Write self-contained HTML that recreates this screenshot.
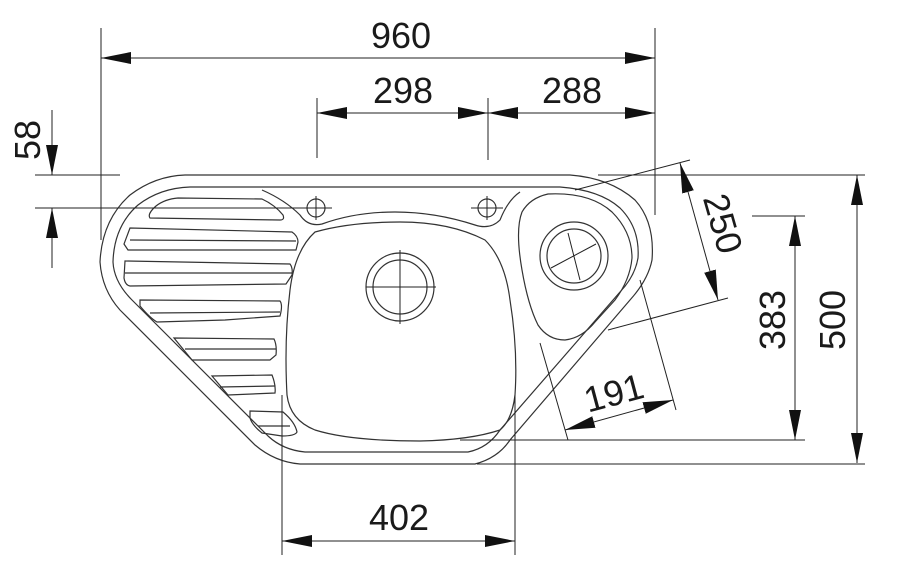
<!DOCTYPE html>
<html><head><meta charset="utf-8"><style>
html,body{margin:0;padding:0;background:#fff;}
svg{display:block;}
text{font-family:"Liberation Sans",sans-serif;font-size:36px;fill:#1a1a1a;}
</style></head><body>
<svg width="900" height="565" viewBox="0 0 900 565" xmlns="http://www.w3.org/2000/svg">
<defs>
<marker id="a" viewBox="0 0 30 12" refX="30" refY="6" markerWidth="30" markerHeight="12" markerUnits="userSpaceOnUse" orient="auto-start-reverse">
<path d="M0,0 L30,6 L0,12 Z" fill="#111"/></marker>
</defs>
<g fill="none" stroke="#333" stroke-width="1.2">
<path d="M185,175 L570,175 Q610,178 635,200 Q655,222 652,260 Q648,280 630,300 L510,440 Q498,458 475,464 L300,464 Q275,462 255,445 L120,310 Q102,290 100,262 Q102,220 130,195 Q155,176 185,175 Z"/>
<path d="M190,187 L560,187 Q600,190 620,208 Q640,228 638,258 Q635,276 620,292 L500,430 Q488,448 468,452 L305,452 Q283,450 268,436 L132,300 Q114,282 113,262 Q114,226 138,205 Q160,188 190,187 Z"/>
<path d="M262,190 Q285,200 300,215 Q308,227 322,224 Q355,212 395,212 Q435,212 475,225 Q490,230 500,220 Q508,200 520,192"/>
<path d="M315,232 Q350,222 400,222 Q450,222 485,240 Q505,260 510,300 Q518,350 515,395 Q512,420 500,430 Q470,440 420,441 Q350,441 315,430 Q290,420 287,395 Q284,340 290,290 Q295,250 315,232 Z"/>
<path d="M548,194 Q590,192 612,212 Q632,232 632,258 Q630,280 615,300 L595,322 Q582,338 565,340 Q548,340 538,325 Q528,305 522,270 Q515,230 522,212 Q530,198 548,194 Z"/>
<circle cx="400" cy="287" r="34"/><circle cx="400" cy="287" r="27"/>
<circle cx="574" cy="256" r="34"/><circle cx="574" cy="256" r="27"/>
<circle cx="316" cy="208" r="9"/><circle cx="487" cy="208" r="9"/>
<path d="M178,198 L262,199 Q275,205 283,215 Q285,220 280,220 L150,218 Q147,214 156,206 Q165,199 178,198 Z"/>
<path d="M130,228 L292,232 Q298,236 298,242 L296,250 L128,250 L124,244 Z"/>
<path d="M125,261 L290,264 Q293,268 292,275 L286,284 L130,286 Q125,285 124,278 Z"/>
<path d="M140,300 L280,301 Q283,305 280,316 L225,320 L157,322 Q150,318 140,306 Z"/>
<path d="M174,338 L274,339 Q277,345 276,355 L270,360 L192,360 Z"/>
<path d="M212,376 L272,375 Q276,385 275,393 L228,395 Z"/>
<path d="M250,411 L283,412 Q295,422 297,432 Q295,436 282,436 L262,433 Q252,425 250,418 Z"/>
<path d="M130,240 L296,241 M125,273 L292,273 M150,313 L280,312 M185,349 L276,349 M220,387 L275,386 M258,426 L290,426"/>
</g>
<g fill="none" stroke="#222" stroke-width="1">
<path d="M400,250 V324 M366,287 H436 M551,268 L596,244 M568,233 L580,280"/>
<path d="M316,196 V220 M300,208 H332 M487,196 V220 M471,208 H503"/>
<path d="M101,28 V240 M655,28 V215 M317,98 V158 M488,98 V160"/>
<path d="M35,175 H120 M598,175 H865 M35,208 H300"/>
<path d="M752,216 H805 M460,440 H805 M477,464 H865"/>
<path d="M690,160 L575,190 M728,298 L608,330 M540,343 L568,440 M640,280 L676,410"/>
<path d="M282,395 V555 M515,395 V555"/>
<path d="M101,58 H655" marker-start="url(#a)" marker-end="url(#a)"/>
<path d="M317,113 H488" marker-start="url(#a)" marker-end="url(#a)"/>
<path d="M488,113 H655" marker-start="url(#a)" marker-end="url(#a)"/>
<path d="M52,110 V175" marker-end="url(#a)"/>
<path d="M52,268 V208" marker-end="url(#a)"/>
<path d="M857,175 V463" marker-start="url(#a)" marker-end="url(#a)"/>
<path d="M795,216 V440" marker-start="url(#a)" marker-end="url(#a)"/>
<path d="M680,163 L718,300" marker-start="url(#a)" marker-end="url(#a)"/>
<path d="M565,430 L673,400" marker-start="url(#a)" marker-end="url(#a)"/>
<path d="M282,541 H515" marker-start="url(#a)" marker-end="url(#a)"/>
</g>
<text x="401" y="48" text-anchor="middle">960</text>
<text x="403" y="103" text-anchor="middle">298</text>
<text x="572" y="103" text-anchor="middle">288</text>
<text x="399" y="530" text-anchor="middle">402</text>
<text transform="translate(40,140) rotate(-90)" text-anchor="middle">58</text>
<text transform="translate(845,320) rotate(-90)" text-anchor="middle">500</text>
<text transform="translate(785,320) rotate(-90)" text-anchor="middle">383</text>
<text transform="translate(711,227) rotate(74)" text-anchor="middle">250</text>
<text transform="translate(617,405) rotate(-15)" text-anchor="middle">191</text>
</svg>
</body></html>
